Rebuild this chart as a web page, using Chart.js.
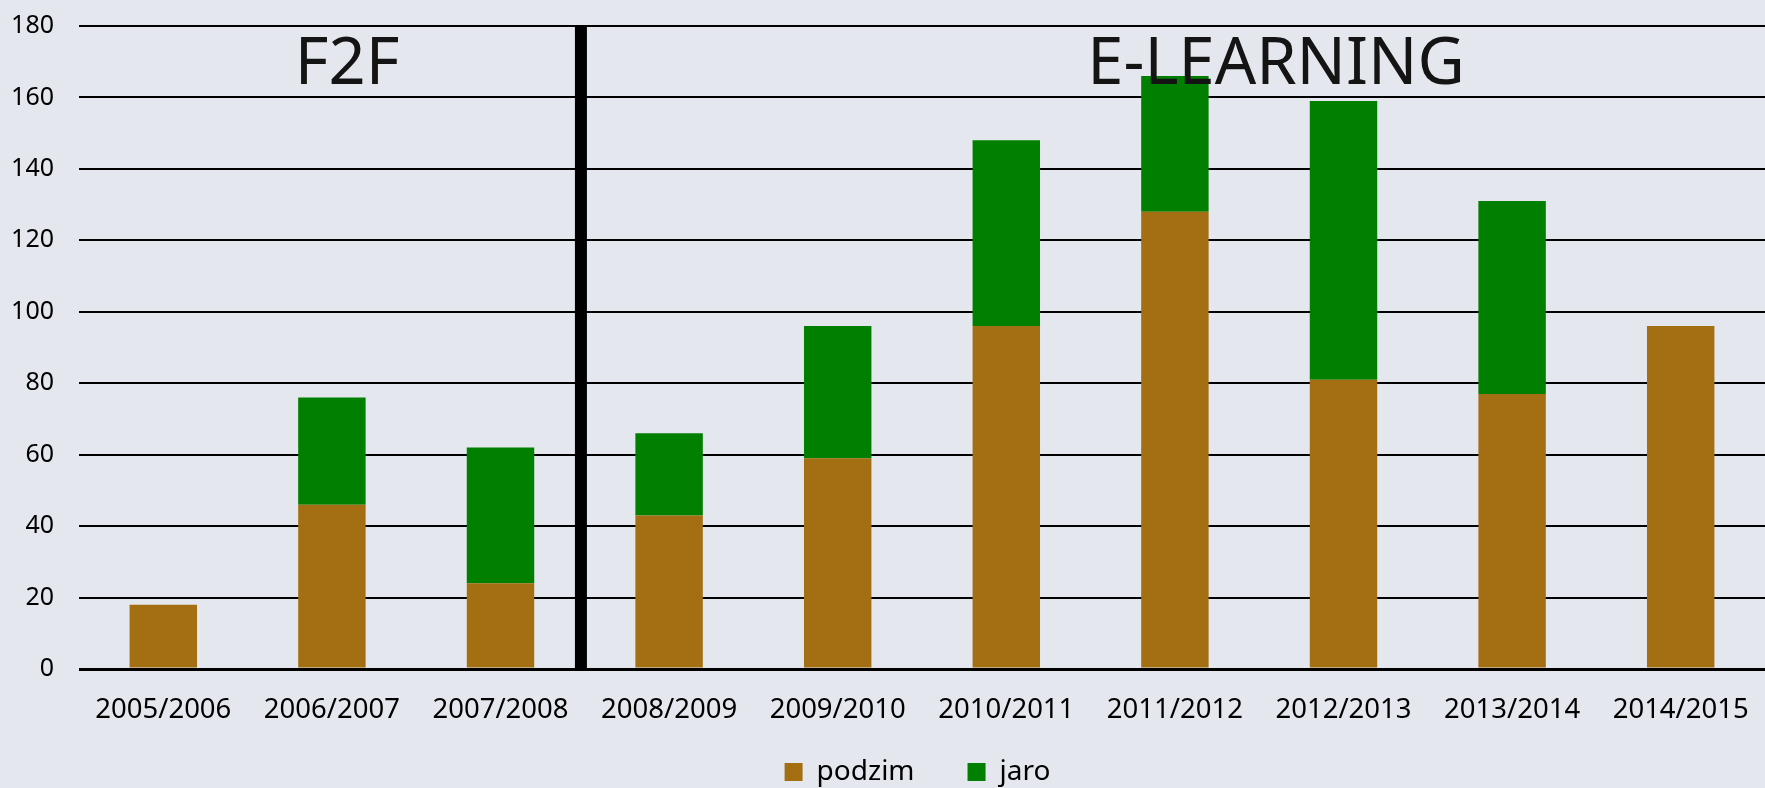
<!DOCTYPE html>
<html>
<head>
<meta charset="utf-8">
<script src="https://cdn.jsdelivr.net/npm/chart.js@4.4.1/dist/chart.umd.min.js"></script>
<style>
  html, body { margin: 0; padding: 0; background: #E4E8EE; }
  #wrap { width: 1765px; height: 788px; position: relative; }
</style>
</head>
<body>
<div id="wrap"><canvas id="c" width="1765" height="788"></canvas></div>
<script>
const categories = ['2005/2006','2006/2007','2007/2008','2008/2009','2009/2010','2010/2011','2011/2012','2012/2013','2013/2014','2014/2015'];
const podzim = [18, 46, 24, 43, 59, 96, 128, 81, 77, 96];
const jaro   = [0, 30, 38, 23, 37, 52, 38, 78, 54, 0];
const seriesNames = ['podzim', 'jaro'];
const sectionLabels = ['F2F', 'E-LEARNING'];
const yMax = 180;
const yStep = 20;

const FONT = '"Noto Sans", "DejaVu Sans", sans-serif';

const sectionPlugin = {
  id: 'sections',
  afterLayout(chart) {
    // nudge the legend to sit below the category labels
    const lg = chart.legend;
    if (lg) {
      lg.top -= 24; lg.bottom -= 24;
      lg.left += 35; lg.right += 35;
    }
  },
  afterDatasetsDraw(chart) {
    const { ctx, scales: { x, y } } = chart;
    ctx.save();
    // divider between F2F and E-LEARNING
    const xd = x.getPixelForValue(2.477);
    const yTop = y.getPixelForValue(yMax);
    const yBot = y.getPixelForValue(0);
    ctx.fillStyle = '#000';
    ctx.fillRect(xd - 6, yTop, 12, yBot - yTop);
    // section titles
    ctx.font = '65px ' + FONT;
    ctx.fillStyle = '#141414';
    ctx.textAlign = 'center';
    ctx.textBaseline = 'middle';
    ctx.fillText(sectionLabels[0], x.getPixelForValue(1.09), y.getPixelForValue(169));
    ctx.fillText(sectionLabels[1], x.getPixelForValue(6.6), y.getPixelForValue(169));
    ctx.restore();
  }
};

new Chart(document.getElementById('c'), {
  type: 'bar',
  data: {
    labels: categories,
    datasets: [
      { label: seriesNames[0], data: podzim, backgroundColor: '#A36F12', borderWidth: 0 },
      { label: seriesNames[1], data: jaro, backgroundColor: '#007F00', borderWidth: 0 }
    ]
  },
  options: {
    responsive: false,
    animation: false,
    layout: { padding: { top: 26, right: 0, bottom: -32, left: 0 } },
    datasets: { bar: { barPercentage: 0.4, categoryPercentage: 1.0 } },
    plugins: {
      legend: {
        position: 'bottom',
        labels: {
          boxWidth: 18, boxHeight: 18, padding: 53,
          color: '#000',
          font: { family: FONT, size: 28 }
        }
      },
      tooltip: { enabled: false }
    },
    scales: {
      x: {
        stacked: true,
        grid: { display: false, drawTicks: false },
        border: { display: false },
        ticks: { color: '#000', font: { family: FONT, size: 27.5 }, padding: 25, maxRotation: 0, autoSkip: false },
        afterFit(s) { s.height = 60; s.paddingLeft = 0; s.paddingRight = 0; }
      },
      y: {
        stacked: true,
        min: 0, max: yMax,
        border: { display: false },
        grid: {
          color: '#000',
          lineWidth: (c) => (c.tick && c.tick.value === 0 ? 3 : 2),
          drawTicks: false
        },
        ticks: { stepSize: yStep, color: '#000', font: { family: FONT, size: 25 }, padding: 25 },
        afterFit(s) { s.width = 79; s.paddingTop = 0; s.paddingBottom = 0; }
      }
    }
  },
  plugins: [sectionPlugin]
});
</script>
</body>
</html>
